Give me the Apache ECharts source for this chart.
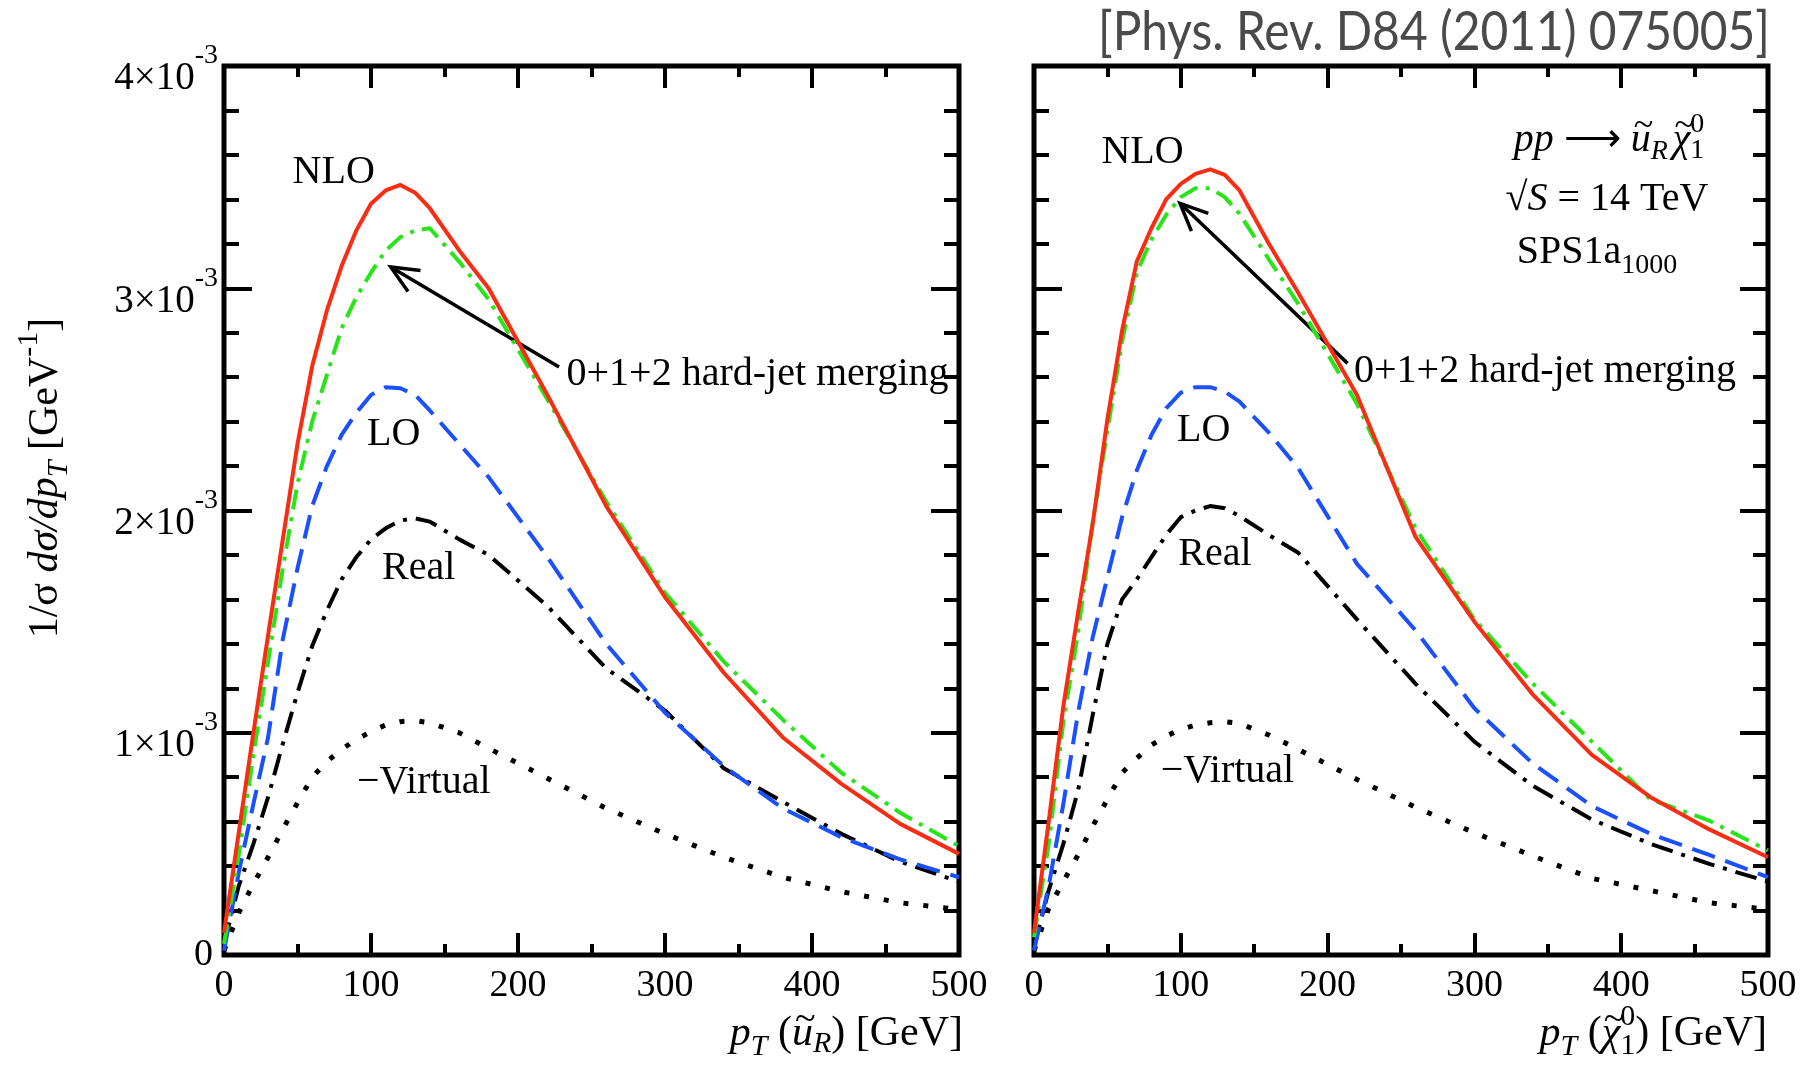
<!DOCTYPE html>
<html>
<head>
<meta charset="utf-8">
<script src="https://cdn.jsdelivr.net/npm/echarts@6/dist/echarts.min.js"></script>
<style>
  html, body { margin: 0; padding: 0; background: #ffffff; }
  #chart { width: 1804px; height: 1067px; }
</style>
</head>
<body>
<div id="chart"></div>
<script>
// ---------------------------------------------------------------------------
// Normalised pT distributions, 1/sigma dsigma/dpT in units of 1e-3 GeV^-1
// ---------------------------------------------------------------------------
const ptGrid = [0, 10, 20, 30, 40, 50, 60, 70, 80, 90, 100, 110, 120, 130, 140, 160, 180, 220, 260, 300, 340, 380, 420, 460, 500];

// squark (u~_R) transverse momentum
const sqNLO     = [0.10, 0.55, 1.00, 1.44, 1.87, 2.30, 2.65, 2.90, 3.10, 3.26, 3.38, 3.44, 3.465, 3.43, 3.36, 3.17, 3.00, 2.52, 2.02, 1.61, 1.27, 0.98, 0.77, 0.59, 0.455];
const sqMerged  = [0.05, 0.45, 0.90, 1.32, 1.74, 2.12, 2.40, 2.61, 2.82, 2.96, 3.07, 3.17, 3.23, 3.26, 3.27, 3.12, 2.95, 2.50, 2.04, 1.63, 1.32, 1.06, 0.82, 0.64, 0.49];
const sqLO      = [0.02, 0.37, 0.68, 0.98, 1.42, 1.74, 2.02, 2.20, 2.34, 2.44, 2.52, 2.555, 2.55, 2.52, 2.45, 2.30, 2.15, 1.79, 1.40, 1.09, 0.85, 0.66, 0.53, 0.43, 0.35];
const sqReal    = [0.05, 0.31, 0.50, 0.71, 0.95, 1.18, 1.39, 1.55, 1.69, 1.79, 1.87, 1.92, 1.955, 1.965, 1.95, 1.87, 1.80, 1.57, 1.29, 1.10, 0.84, 0.69, 0.545, 0.42, 0.33];
const sqVirtual = [0.02, 0.19, 0.32, 0.44, 0.565, 0.685, 0.80, 0.87, 0.925, 0.97, 1.005, 1.035, 1.05, 1.055, 1.045, 1.00, 0.93, 0.795, 0.66, 0.545, 0.44, 0.35, 0.285, 0.235, 0.205];

// neutralino (chi~0_1) transverse momentum
const nNLO      = [0.10, 0.60, 1.12, 1.54, 1.94, 2.41, 2.81, 3.12, 3.27, 3.40, 3.47, 3.515, 3.535, 3.51, 3.44, 3.20, 2.98, 2.52, 1.88, 1.50, 1.17, 0.90, 0.71, 0.565, 0.44];
const nMerged   = [0.08, 0.50, 1.05, 1.45, 1.95, 2.36, 2.76, 3.07, 3.22, 3.33, 3.41, 3.45, 3.45, 3.41, 3.335, 3.13, 2.93, 2.48, 1.92, 1.51, 1.22, 0.96, 0.70, 0.605, 0.47];
const nLO       = [0.02, 0.31, 0.68, 1.09, 1.43, 1.70, 1.97, 2.18, 2.34, 2.46, 2.53, 2.555, 2.555, 2.535, 2.49, 2.35, 2.19, 1.76, 1.46, 1.11, 0.86, 0.67, 0.545, 0.45, 0.35];
const nReal     = [0.04, 0.29, 0.50, 0.74, 1.08, 1.40, 1.60, 1.69, 1.79, 1.89, 1.97, 2.00, 2.02, 2.01, 1.975, 1.89, 1.81, 1.51, 1.22, 0.96, 0.76, 0.61, 0.50, 0.41, 0.33];
const nVirtual  = [0.02, 0.21, 0.33, 0.45, 0.58, 0.70, 0.82, 0.885, 0.945, 0.985, 1.015, 1.035, 1.045, 1.05, 1.042, 0.99, 0.925, 0.79, 0.665, 0.55, 0.445, 0.345, 0.29, 0.235, 0.205];

// tick labels
const xTickLabels = ['0', '100', '200', '300', '400', '500'];
const yTickValues = [0, 1, 2, 3, 4];
const yTickLabels = ['0', '1×10', '2×10', '3×10', '4×10'];
const yTickPower  = '-3';

// curve names drawn next to the curves
const curveNames = ['NLO', 'LO', 'Real', '\u2212Virtual'];
const mergeNote  = '0+1+2 hard-jet merging';
const citation   = '[Phys. Rev. D84 (2011) 075005]';

// ---------------------------------------------------------------------------
const SERIF = '"Liberation Serif", "Times New Roman", serif';
const RED = '#f92d14', GREEN = '#2ae41a', BLUE = '#1a50ff', BLACK = '#000000';

const gridBoxes = [
  { left: 224, top: 66, width: 735, height: 889 },
  { left: 1034, top: 66, width: 734, height: 889 }
];

const chart = echarts.init(document.getElementById('chart'), null, { renderer: 'canvas' });

function xAxisPair(gridIndex) {
  const base = {
    gridIndex, type: 'value', min: 0, max: 500, interval: 100,
    axisLine: { show: false, onZero: false }, splitLine: { show: false },
    axisTick: { show: true, inside: true, length: 22, lineStyle: { color: BLACK, width: 4 } },
    minorTick: { show: true, splitNumber: 2, length: 11, lineStyle: { color: BLACK, width: 4 } }
  };
  return [
    Object.assign({}, base, {
      position: 'bottom',
      axisLabel: {
        show: true, margin: 12, color: BLACK, fontFamily: SERIF, fontSize: 38,
        showMinLabel: true, showMaxLabel: true,
        formatter: v => xTickLabels[Math.round(v / 100)]
      }
    }),
    Object.assign({}, base, { position: 'top', axisLabel: { show: false } })
  ];
}

function yAxisPair(gridIndex) {
  const base = {
    gridIndex, type: 'value', min: 0, max: 4, interval: 1,
    axisLine: { show: false, onZero: false }, splitLine: { show: false },
    axisTick: { show: true, inside: true, length: 28, lineStyle: { color: BLACK, width: 4 } },
    minorTick: { show: true, splitNumber: 5, length: 15, lineStyle: { color: BLACK, width: 4 } },
    axisLabel: { show: false }
  };
  return [
    Object.assign({}, base, { position: 'left' }),
    Object.assign({}, base, { position: 'right' })
  ];
}

function curve(name, values, color, dash, width, xIdx, yIdx, z) {
  return {
    name, type: 'line', xAxisIndex: xIdx, yAxisIndex: yIdx,
    data: ptGrid.map((pt, i) => [pt, values[i]]),
    showSymbol: false, symbol: 'none', smooth: false, z,
    lineStyle: { color, width, type: dash, cap: 'butt', join: 'round' },
    animation: false
  };
}

const DOTS = [5, 15], DASH = [24, 11], DASHDOT = [22, 9, 4, 9], GREENDASH = [20, 8, 4, 8];

function panelSeries(set, xIdx, yIdx) {
  return [
    curve('Virtual', set.v, BLACK, DOTS, 5, xIdx, yIdx, 2),
    curve('Real', set.r, BLACK, DASHDOT, 4, xIdx, yIdx, 3),
    curve('LO', set.lo, BLUE, DASH, 4, xIdx, yIdx, 4),
    curve('Merged', set.m, GREEN, GREENDASH, 4, xIdx, yIdx, 5),
    curve('NLO', set.nlo, RED, 'solid', 4, xIdx, yIdx, 6)
  ];
}

const seriesLeft  = panelSeries({ v: sqVirtual, r: sqReal, lo: sqLO, m: sqMerged, nlo: sqNLO }, 0, 0);
const seriesRight = panelSeries({ v: nVirtual, r: nReal, lo: nLO, m: nMerged, nlo: nNLO }, 2, 2);

chart.setOption({
  animation: false,
  backgroundColor: '#ffffff',
  grid: gridBoxes.map(g => Object.assign({ show: true, borderColor: BLACK, borderWidth: 5, backgroundColor: 'transparent', containLabel: false }, g)),
  xAxis: xAxisPair(0).concat(xAxisPair(1)),
  yAxis: yAxisPair(0).concat(yAxisPair(1)),
  series: seriesLeft.concat(seriesRight)
});

// ---------------------------------------------------------------------------
// Text helpers: rows of mixed roman / italic / sub / superscript pieces
// ---------------------------------------------------------------------------
const measureCtx = document.createElement('canvas').getContext('2d');
function fontOf(size, italic, family) {
  return (italic ? 'italic ' : '') + size + 'px ' + (family || SERIF);
}
function widthOf(str, size, italic, family) {
  measureCtx.font = fontOf(size, italic, family);
  return measureCtx.measureText(str).width;
}
function textEl(t, x, y, size, italic, align) {
  return {
    type: 'text', x, y, silent: true,
    style: { text: t, font: fontOf(size, italic), fill: BLACK, align: align || 'left', verticalAlign: 'middle' }
  };
}

// pieces: {t, size, it, dy, tilde, gap} or {sup, sub, size, it, supDy, subDy}
function mathRow(pieces, x, y, align, rotation) {
  let w = 0;
  const laid = [];
  pieces.forEach(p => {
    if (p.sup !== undefined) {
      const ws = widthOf(p.sup, p.size, p.it), wb = widthOf(p.sub, p.size, p.it);
      laid.push({ t: p.sup, size: p.size, it: p.it, dx: w, dy: p.supDy });
      laid.push({ t: p.sub, size: p.size, it: p.it, dx: w, dy: p.subDy });
      w += Math.max(ws, wb);
    } else {
      const pw = widthOf(p.t, p.size, p.it);
      laid.push({ t: p.t, size: p.size, it: p.it, dx: w, dy: p.dy || 0 });
      if (p.tilde) {
        laid.push({ t: '~', size: Math.round(p.size * 0.9), it: false, dx: w + pw / 2 + p.size * 0.07, dy: (p.dy || 0) - p.size * 0.33, center: true });
      }
      w += pw + (p.gap || 0);
    }
  });
  const x0 = align === 'right' ? -w : (align === 'center' ? -w / 2 : 0);
  return {
    type: 'group', x, y, rotation: rotation || 0, silent: true,
    children: laid.map(p => textEl(p.t, x0 + p.dx, p.dy, p.size, p.it, p.center ? 'center' : 'left'))
  };
}

function label(text, pos, align) {
  return textEl(text, pos[0], pos[1], 40, false, align || 'center');
}

function arrow(tail, head) {
  const ang = Math.atan2(tail[1] - head[1], tail[0] - head[0]);
  const len = 30, spread = 0.42;
  const a1 = [head[0] + len * Math.cos(ang + spread), head[1] + len * Math.sin(ang + spread)];
  const a2 = [head[0] + len * Math.cos(ang - spread), head[1] + len * Math.sin(ang - spread)];
  const st = { stroke: BLACK, lineWidth: 3.5, fill: null, lineCap: 'butt', lineJoin: 'miter' };
  return [
    { type: 'line', silent: true, shape: { x1: tail[0], y1: tail[1], x2: head[0], y2: head[1] }, style: st },
    { type: 'polyline', silent: true, shape: { points: [a1, head, a2] }, style: st }
  ];
}

// y tick labels of the left panel, placed at the axis ticks
function yTickTexts() {
  return yTickValues.map((v, i) => {
    const p = chart.convertToPixel({ seriesIndex: 0 }, [0, v]);
    if (v === 0) return textEl(yTickLabels[i], p[0] - 11, p[1], 38, false, 'right');
    return mathRow([{ t: yTickLabels[i], size: 39 }, { t: yTickPower, size: 28, dy: -23 }], p[0] - 6, p[1] + 13, 'right');
  });
}

// annotation anchors in data coordinates (pT [GeV], value [1e-3 GeV^-1])
const annotLeft = {
  names: [[74.6, 3.52], [115.4, 2.34], [132.5, 1.737], [135.9, 0.778]],
  note: [233.0, 2.614], arrowTail: [227.9, 2.646], arrowHead: [113.4, 3.096]
};
const annotRight = {
  names: [[73.9, 3.611], [115.6, 2.362], [123.3, 1.804], [131.8, 0.825]],
  note: [218.0, 2.625], arrowTail: [213.6, 2.662], arrowHead: [99.5, 3.382]
};

function panelAnnotations(annot, seriesIndex) {
  const px = p => chart.convertToPixel({ seriesIndex }, p);
  const out = [];
  annot.names.forEach((p, i) => out.push(label(curveNames[i], px(p), 'center')));
  out.push(label(mergeNote, px(annot.note), 'left'));
  return out.concat(arrow(px(annot.arrowTail), px(annot.arrowHead)));
}

const SUB = 30;
const yTitle = mathRow([
  { t: '1/σ ', size: 42 }, { t: 'dσ/dp', size: 42, it: true }, { t: 'T', size: SUB, it: true, dy: 13 },
  { t: ' [GeV', size: 42 }, { t: '-1', size: SUB, dy: -17 }, { t: ']', size: 42 }
], 46, 478, 'center', Math.PI / 2);

const xTitleLeft = mathRow([
  { t: 'p', size: 42, it: true }, { t: 'T', size: SUB, it: true, dy: 13 }, { t: ' (', size: 42 },
  { t: 'u', size: 42, it: true, tilde: true }, { t: 'R', size: SUB, it: true, dy: 10 }, { t: ')', size: 42 },
  { t: ' [GeV]', size: 42 }
], 963, 1034, 'right');

const xTitleRight = mathRow([
  { t: 'p', size: 42, it: true }, { t: 'T', size: SUB, it: true, dy: 13 }, { t: ' (', size: 42 },
  { t: 'χ', size: 42, it: true, tilde: true }, { sup: '0', sub: '1', size: SUB, supDy: -17, subDy: 12 }, { t: ')', size: 42 },
  { t: ' [GeV]', size: 42 }
], 1767, 1034, 'right');

const info = [
  mathRow([
    { t: 'pp', size: 40, it: true }, { t: ' \u27f6 ', size: 40 }, { t: 'u', size: 40, it: true, tilde: true },
    { t: 'R', size: 28, it: true, dy: 12, gap: 5 }, { t: 'χ', size: 40, it: true, tilde: true },
    { sup: '0', sub: '1', size: 28, supDy: -15, subDy: 11 }
  ], 1609, 140, 'center'),
  mathRow([{ t: '\u221a', size: 40 }, { t: 'S', size: 40, it: true }, { t: ' = 14 TeV', size: 40 }], 1607, 199, 'center'),
  mathRow([{ t: 'SPS1a', size: 40 }, { t: '1000', size: 28, dy: 14 }], 1597, 252, 'center')
];

// citation banner, humanist sans squeezed to its column width
const citeSize = 54, citeFamily = 'Lato, "Open Sans", sans-serif';
const citeScale = 672 / widthOf(citation, citeSize, false, citeFamily);
const cite = {
  type: 'text', x: 1770, y: 33, scaleX: citeScale, silent: true,
  style: { text: citation, font: citeSize + 'px ' + citeFamily, fill: '#4a4a4a', align: 'right', verticalAlign: 'middle' }
};

chart.setOption({
  graphic: [cite, yTitle, xTitleLeft, xTitleRight]
    .concat(info)
    .concat(yTickTexts())
    .concat(panelAnnotations(annotLeft, 0))
    .concat(panelAnnotations(annotRight, 5))
});
</script>
</body>
</html>
